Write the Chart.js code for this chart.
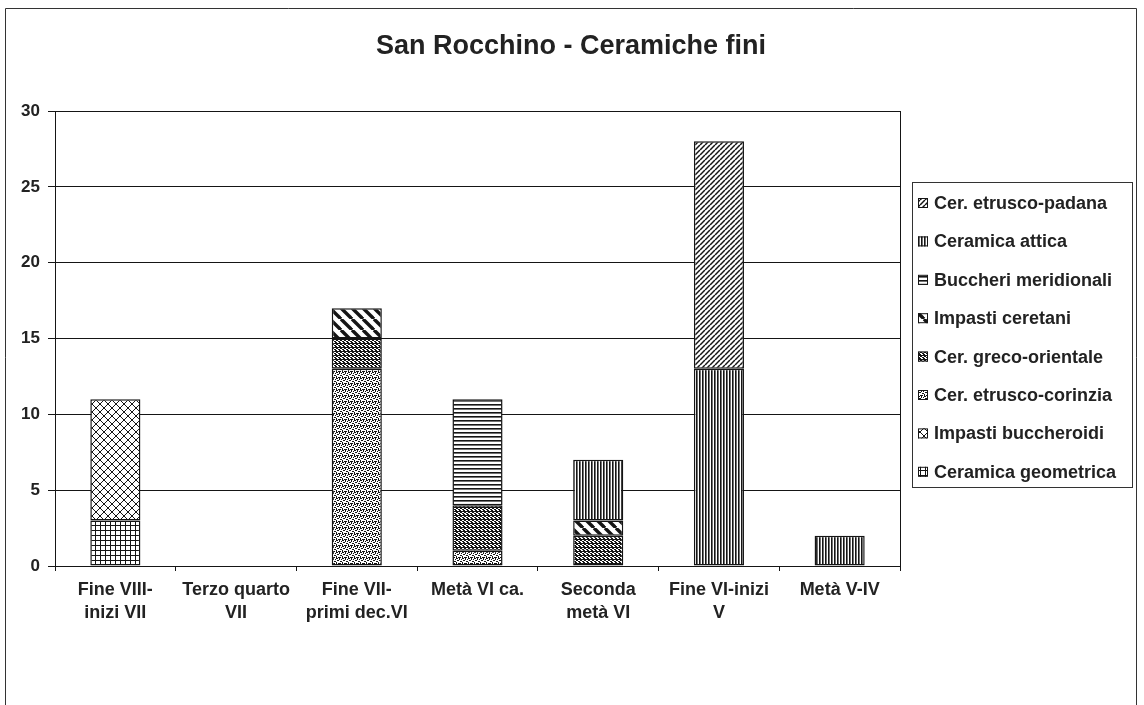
<!DOCTYPE html>
<html>
<head>
<meta charset="utf-8">
<script src="https://cdn.jsdelivr.net/npm/chart.js@4/dist/chart.umd.min.js"></script>
<style>
  html, body { margin: 0; padding: 0; background: #fff; }
  #wrap { width: 1144px; height: 705px; }
</style>
</head>
<body>
<div id="wrap"><canvas id="chart" width="1144" height="705"></canvas></div>
<script>
const chartTitle = 'San Rocchino - Ceramiche fini';
const categories = [
    ["Fine VIII-", "inizi VII"],
    ["Terzo quarto", "VII"],
    ["Fine VII-", "primi dec.VI"],
    ["Metà VI ca."],
    ["Seconda", "metà VI"],
    ["Fine VI-inizi", "V"],
    ["Metà V-IV"]
];
const yTicks = [0, 5, 10, 15, 20, 25, 30];

// bottom of the stack first
const ceramicaGeometrica = [3, null, null, null, null, null, null];
const impastiBuccheroidi = [8, null, null, null, null, null, null];
const etruscoCorinzia    = [null, null, 13, 1, null, null, null];
const grecoOrientale     = [null, null, 2, 3, 2, null, null];
const impastiCeretani    = [null, null, 2, null, 1, null, null];
const buccheriMerid      = [null, null, null, 7, null, null, null];
const ceramicaAttica     = [null, null, null, null, 4, 13, 2];
const etruscoPadana      = [null, null, null, null, null, 15, null];

const INK = '#151515';
const FONT = 'Arial, "Liberation Sans", sans-serif';

function makePattern(kind) {
    const c = document.createElement('canvas');
    const sizes = { grid: 5, diamond: 8, dots: 6, dense: 4, wide: 11, hlines: 4, vlines: 3, fine: 5 };
    const s = sizes[kind];
    c.width = s; c.height = s;
    const g = c.getContext('2d');
    g.fillStyle = '#fff';
    g.fillRect(0, 0, s, s);
    g.fillStyle = INK;
    g.strokeStyle = INK;
    if (kind === 'grid') {
        g.fillRect(0, 0, s, 1);
        g.fillRect(0, 0, 1, s);
    } else if (kind === 'diamond') {
        g.lineWidth = 1;
        for (const k of [-s, 0, s]) {
            g.beginPath(); g.moveTo(k, s); g.lineTo(k + s, 0); g.stroke();
            g.beginPath(); g.moveTo(k, 0); g.lineTo(k + s, s); g.stroke();
        }
    } else if (kind === 'dots') {
        [[0,0,2,1],[3,0,1,2],[1,2,2,1],[4,3,2,1],[0,4,1,2],[5,1,1,1],[2,5,2,1],[4,5,1,1]].forEach(d => g.fillRect(...d));
    } else if (kind === 'dense') {
        [[0,0,2,1],[2,1,2,1],[0,2,1,2],[3,2,1,2],[1,3,2,1]].forEach(d => g.fillRect(...d));
    } else if (kind === 'wide') {
        g.lineWidth = 3.4;
        for (const k of [-s, 0, s]) {
            g.beginPath(); g.moveTo(k, 0); g.lineTo(k + s, s); g.stroke();
        }
    } else if (kind === 'hlines') {
        g.fillRect(0, 0, s, 1.6);
    } else if (kind === 'vlines') {
        g.fillRect(0, 0, 1.6, s);
    } else if (kind === 'fine') {
        g.lineWidth = 1.5;
        for (const k of [-s, 0, s]) {
            g.beginPath(); g.moveTo(k, s); g.lineTo(k + s, 0); g.stroke();
        }
    }
    return g.createPattern(c, 'repeat');
}

function series(label, data, kind) {
    return {
        label: label,
        data: data,
        backgroundColor: makePattern(kind),
        borderColor: INK,
        borderWidth: 1.5,
        borderSkipped: false,
        categoryPercentage: 1,
        barPercentage: 0.415
    };
}

// title, frame, plot border and boxed legend
const extras = {
    id: 'extras',
    afterDraw(chart) {
        const ctx = chart.ctx;
        const a = chart.chartArea;
        ctx.save();
        ctx.fillStyle = '#222';
        ctx.font = 'bold 27px ' + FONT;
        ctx.textAlign = 'center';
        ctx.textBaseline = 'middle';
        ctx.fillText(chartTitle, 571, 47);

        ctx.strokeStyle = '#333';
        ctx.lineWidth = 1;
        ctx.beginPath();
        ctx.moveTo(5.5, 720); ctx.lineTo(5.5, 8.5); ctx.lineTo(1136.5, 8.5); ctx.lineTo(1136.5, 720);
        ctx.stroke();

        ctx.strokeStyle = INK;
        ctx.beginPath();
        ctx.moveTo(Math.round(a.right) + 0.5, a.top);
        ctx.lineTo(Math.round(a.right) + 0.5, a.bottom + 2);
        ctx.stroke();

        const lx = 912, ly = 182, lw = 220, lh = 305;
        ctx.strokeStyle = '#333';
        ctx.strokeRect(lx + 0.5, ly + 0.5, lw, lh);
        const ds = chart.data.datasets.slice().reverse();
        ctx.font = 'bold 18px ' + FONT;
        ctx.textAlign = 'left';
        ds.forEach((d, i) => {
            const cy = 203 + i * 38.4;
            ctx.fillStyle = d.backgroundColor;
            ctx.fillRect(lx + 6, cy - 5, 10, 10);
            ctx.strokeStyle = INK;
            ctx.strokeRect(lx + 6.5, cy - 4.5, 9, 9);
            ctx.fillStyle = '#222';
            ctx.fillText(d.label, lx + 22, cy + 1);
        });
        ctx.restore();
    }
};

new Chart(document.getElementById('chart'), {
    type: 'bar',
    data: {
        labels: categories,
        datasets: [
            series('Ceramica geometrica', ceramicaGeometrica, 'grid'),
            series('Impasti buccheroidi', impastiBuccheroidi, 'diamond'),
            series('Cer. etrusco-corinzia', etruscoCorinzia, 'dots'),
            series('Cer. greco-orientale', grecoOrientale, 'dense'),
            series('Impasti ceretani', impastiCeretani, 'wide'),
            series('Buccheri meridionali', buccheriMerid, 'hlines'),
            series('Ceramica attica', ceramicaAttica, 'vlines'),
            series('Cer. etrusco-padana', etruscoPadana, 'fine')
        ]
    },
    options: {
        responsive: false,
        animation: false,
        layout: { padding: { left: 10, right: 244, top: 111, bottom: 79 } },
        plugins: {
            legend: { display: false },
            tooltip: { enabled: false },
            title: { display: false }
        },
        scales: {
            x: {
                stacked: true,
                afterFit(scale) { scale.height = 60; },
                grid: { display: true, drawOnChartArea: false, drawTicks: true, tickLength: 5, color: INK },
                border: { display: true, color: INK, width: 1 },
                ticks: {
                    color: '#222',
                    padding: 8,
                    maxRotation: 0,
                    autoSkip: false,
                    font: { family: FONT, size: 18, weight: 'bold', lineHeight: 1.25 }
                }
            },
            y: {
                stacked: true,
                min: 0,
                max: 30,
                afterFit(scale) { scale.width = 45; },
                afterBuildTicks(scale) { scale.ticks = yTicks.map(v => ({ value: v })); },
                grid: { color: INK, lineWidth: 1, tickLength: 7 },
                border: { display: true, color: INK, width: 1 },
                ticks: {
                    color: '#222',
                    padding: 8,
                    font: { family: FONT, size: 17, weight: 'bold' }
                }
            }
        }
    },
    plugins: [extras]
});
</script>
</body>
</html>
